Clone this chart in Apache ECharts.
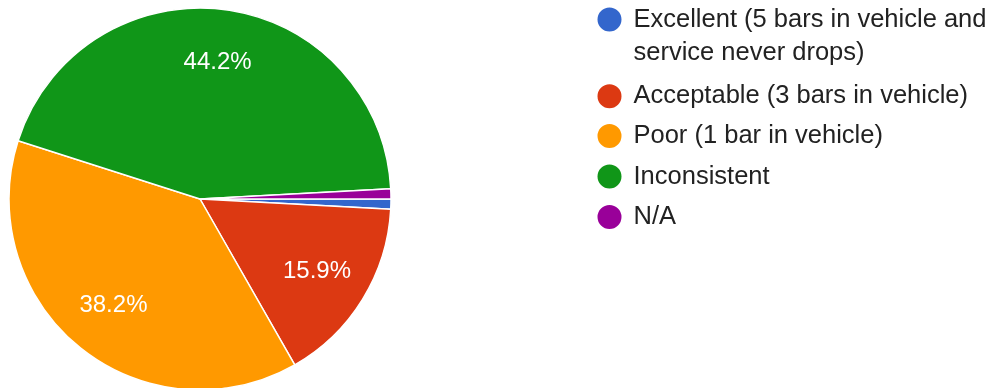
<!DOCTYPE html>
<html>
<head>
  <meta charset="UTF-8"/>
  <title></title>
  <style>
    html, body { margin: 0; padding: 0; background: #fff; }
    #main { width: 995px; height: 388px; }
  </style>
</head>
<body>
<div id="main"></div>
<script src="https://cdn.jsdelivr.net/npm/echarts@6/dist/echarts.min.js"></script>
<script type="text/javascript">
    // 各选项及回答人数
    const categories = [
        'Excellent (5 bars in vehicle and service never drops)',
        'Acceptable (3 bars in vehicle)',
        'Poor (1 bar in vehicle)',
        'Inconsistent',
        'N/A'
    ];
    const legendLabels = [
        'Excellent (5 bars in vehicle and\nservice never drops)',
        'Acceptable (3 bars in vehicle)',
        'Poor (1 bar in vehicle)',
        'Inconsistent',
        'N/A'
    ];
    const counts = [2, 37, 89, 103, 2];
    const colors = ['#3366cc', '#dc3912', '#ff9900', '#109618', '#990099'];

    const pieData = categories.map((name, i) => ({value: counts[i], name: name}));

    // 图例图标中心的纵坐标
    const legendCenters = [19.5, 95.3, 135, 175.5, 216];

    let myChart = echarts.init(document.getElementById('main'));

    let legends = categories.map((name, i) => {
        let multi = legendLabels[i].indexOf('\n') >= 0;
        let lh = multi ? 33 : 26;
        // 多行文字前加空行，使图标和第一行对齐
        let lines = multi ? 3 : 1;
        return {
            data: [name],
            orient: 'vertical',
            left: 595.5,
            top: legendCenters[i] - lines * lh / 2,
            padding: 0,
            icon: 'circle',
            itemWidth: 26,
            itemHeight: 26,
            selectedMode: false,
            formatter: function () {
                return multi ? ' \n' + legendLabels[i] : legendLabels[i];
            },
            textStyle: {
                fontFamily: 'Liberation Sans, Arial, sans-serif',
                fontSize: 25.5,
                lineHeight: lh,
                padding: [0, 0, 0, 6],
                color: '#222'
            }
        };
    });

    let option = {
        animation: false,
        color: colors,
        legend: legends,
        series: [
            {
                name: 'pie',
                type: 'pie',
                center: [200, 199],
                radius: [0, 191],
                startAngle: 0,
                clockwise: true,
                percentPrecision: 1,
                data: pieData,
                label: {show: false},
                labelLine: {show: false},
                itemStyle: {
                    borderColor: '#fff',
                    borderWidth: 1.5
                },
                emphasis: {disabled: true}
            },
            {
                // 只用来放百分比标签
                name: 'labels',
                type: 'pie',
                center: [200, 199],
                radius: [78, 191],
                startAngle: 0,
                clockwise: true,
                percentPrecision: 1,
                silent: true,
                data: pieData,
                itemStyle: {color: 'rgba(0,0,0,0)'},
                label: {
                    show: true,
                    position: 'inside',
                    color: '#fff',
                    fontFamily: 'Liberation Sans, Arial, sans-serif',
                    fontSize: 24,
                    formatter: function (p) {
                        return p.percent < 5 ? '' : p.percent.toFixed(1) + '%';
                    }
                },
                labelLine: {show: false},
                emphasis: {disabled: true}
            }
        ]
    };
    myChart.setOption(option);
</script>
</body>
</html>
